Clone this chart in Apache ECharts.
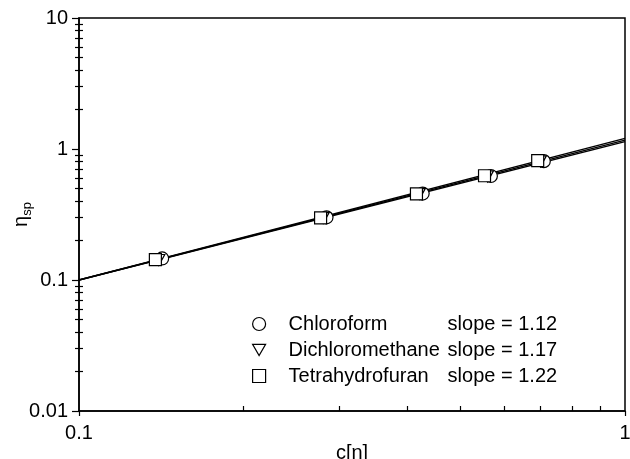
<!DOCTYPE html>
<html>
<head>
<meta charset="utf-8">
<script src="https://cdn.jsdelivr.net/npm/echarts@6/dist/echarts.min.js"></script>
<style>
  html, body { margin: 0; padding: 0; background: #fff; }
  #chart { width: 630px; height: 459px; }
</style>
</head>
<body>
<div id="chart"></div>
<script>
// Reduced concentration c[η] and specific viscosity η_sp for each solvent
const solventNames = ['Chloroform', 'Dichloromethane', 'Tetrahydrofuran'];
const slopes = ['1.12', '1.17', '1.22'];

const cChloroform = [0.142, 0.284, 0.426, 0.568, 0.710];
const etaChloroform = [0.146, 0.301, 0.457, 0.622, 0.808];

const cDichloromethane = [0.140, 0.280, 0.420, 0.560, 0.700];
const etaDichloromethane = [0.142, 0.297, 0.453, 0.618, 0.805];

const cTetrahydrofuran = [0.138, 0.277, 0.415, 0.553, 0.692];
const etaTetrahydrofuran = [0.143, 0.298, 0.455, 0.625, 0.816];

// Fitted lines, evaluated at the ends of the c[η] range
const fitC = [0.1, 1];
const fitChloroform = [0.100, 1.14];
const fitDichloromethane = [0.100, 1.17];
const fitTetrahydrofuran = [0.100, 1.205];

// Axis ticks
const xMajorTicks = [0.1, 1];
const xMinorTicks = [0.2, 0.3, 0.4, 0.5, 0.6, 0.7, 0.8, 0.9];
const yMajorTicks = [0.01, 0.1, 1, 10];
const yMinorTicks = [0.02, 0.03, 0.04, 0.05, 0.06, 0.07, 0.08, 0.09,
                     0.2, 0.3, 0.4, 0.5, 0.6, 0.7, 0.8, 0.9,
                     2, 3, 4, 5, 6, 7, 8, 9];
const xTickLabels = ['0.1', '1'];
const yTickLabels = ['0.01', '0.1', '1', '10'];

const FONT = 'Liberation Sans, Arial, Helvetica, sans-serif';
const INK = '#000';
const FS = 20;

function zip(xs, ys) { return xs.map((x, i) => [x, ys[i]]); }
function labelFor(ticks, labels) {
  return v => {
    const i = ticks.findIndex(t => Math.abs(Math.log10(t) - Math.log10(v)) < 1e-6);
    return i >= 0 ? labels[i] : '';
  };
}

const triangleDown = 'path://M0,0L10,0L5,8.66Z';

const chart = echarts.init(document.getElementById('chart'), null, { renderer: 'canvas' });

const baseLog = { type: 'log', logBase: 10, splitLine: { show: false }, nameMoveOverlap: false };

chart.setOption({
  animation: false,
  backgroundColor: '#fff',
  textStyle: { fontFamily: FONT, color: INK },
  grid: {
    left: 79, right: 5, top: 18, bottom: 48,
    containLabel: false, outerBoundsMode: 'none',
    show: true, borderColor: INK, borderWidth: 1.5, backgroundColor: 'transparent'
  },
  xAxis: [
    Object.assign({}, baseLog, {
      min: 0.1, max: 1, position: 'bottom',
      name: 'c[η]', nameLocation: 'middle', nameGap: 32,
      nameTextStyle: { fontSize: FS, color: INK, fontFamily: FONT },
      axisLine: { show: true, lineStyle: { color: INK, width: 1.5 } },
      axisTick: { show: true, inside: false, length: 5, customValues: xMajorTicks,
                  lineStyle: { color: INK, width: 1.2 } },
      minorTick: { show: false },
      axisLabel: { show: true, margin: 12, fontSize: FS, color: INK, fontFamily: FONT,
                   customValues: xMajorTicks, formatter: labelFor(xMajorTicks, xTickLabels) }
    }),
    Object.assign({}, baseLog, {
      min: 0.1, max: 1, position: 'bottom',
      axisLine: { show: false },
      axisTick: { show: true, inside: true, length: 5, customValues: xMinorTicks,
                  lineStyle: { color: INK, width: 1.2 } },
      axisLabel: { show: false }
    })
  ],
  yAxis: [
    Object.assign({}, baseLog, {
      min: 0.01, max: 10, position: 'left',
      name: '{a|η}{b|sp}', nameLocation: 'middle', nameGap: 45,
      nameTextStyle: {
        color: INK, fontFamily: FONT,
        rich: {
          a: { fontSize: FS, lineHeight: 26, color: INK, fontFamily: FONT },
          b: { fontSize: 13, verticalAlign: 'bottom', color: INK, fontFamily: FONT }
        }
      },
      axisLine: { show: true, lineStyle: { color: INK, width: 1.5 } },
      axisTick: { show: true, inside: false, length: 7, customValues: yMajorTicks,
                  lineStyle: { color: INK, width: 1.2 } },
      axisLabel: { show: true, margin: 11, fontSize: FS, color: INK, fontFamily: FONT,
                   customValues: yMajorTicks, formatter: labelFor(yMajorTicks, yTickLabels) }
    }),
    Object.assign({}, baseLog, {
      min: 0.01, max: 10, position: 'left',
      axisLine: { show: false },
      axisTick: { show: true, inside: false, length: 4, customValues: yMinorTicks,
                  lineStyle: { color: INK, width: 1.2 } },
      axisLabel: { show: false }
    }),
    Object.assign({}, baseLog, {
      min: 0.01, max: 10, position: 'left',
      axisLine: { show: false },
      axisTick: { show: true, inside: true, length: 4, customValues: yMinorTicks,
                  lineStyle: { color: INK, width: 1.2 } },
      axisLabel: { show: false }
    })
  ],
  legend: {
    data: solventNames,
    orient: 'vertical',
    left: 247, top: 309,
    itemWidth: 13, itemHeight: 13, itemGap: 6,
    selectedMode: false,
    itemStyle: { color: '#fff', borderColor: INK, borderWidth: 1.2 },
    formatter: name => '{n|' + name + '}{s|slope = ' + slopes[solventNames.indexOf(name)] + '}',
    textStyle: {
      fontSize: FS, color: INK, fontFamily: FONT,
      rich: {
        n: { fontSize: FS, width: 159, padding: [0, 0, 0, 18], color: INK, fontFamily: FONT },
        s: { fontSize: FS, color: INK, fontFamily: FONT }
      }
    }
  },
  series: [
    { type: 'line', data: zip(fitC, fitChloroform), symbol: 'none', z: 2,
      lineStyle: { color: INK, width: 1.3 } },
    { type: 'line', data: zip(fitC, fitDichloromethane), symbol: 'none', z: 2,
      lineStyle: { color: INK, width: 1.3 } },
    { type: 'line', data: zip(fitC, fitTetrahydrofuran), symbol: 'none', z: 2,
      lineStyle: { color: INK, width: 1.3 } },
    { name: solventNames[0], type: 'scatter', data: zip(cChloroform, etaChloroform),
      symbol: 'circle', symbolSize: 13, z: 3,
      itemStyle: { color: '#fff', borderColor: INK, borderWidth: 1.2, opacity: 1 } },
    { name: solventNames[1], type: 'scatter', data: zip(cDichloromethane, etaDichloromethane),
      symbol: triangleDown, symbolSize: [12, 11], z: 4,
      itemStyle: { color: '#fff', borderColor: INK, borderWidth: 1.2, opacity: 1 } },
    { name: solventNames[2], type: 'scatter', data: zip(cTetrahydrofuran, etaTetrahydrofuran),
      symbol: 'rect', symbolSize: 12, z: 5,
      itemStyle: { color: '#fff', borderColor: INK, borderWidth: 1.2, opacity: 1 } }
  ]
});
</script>
</body>
</html>
